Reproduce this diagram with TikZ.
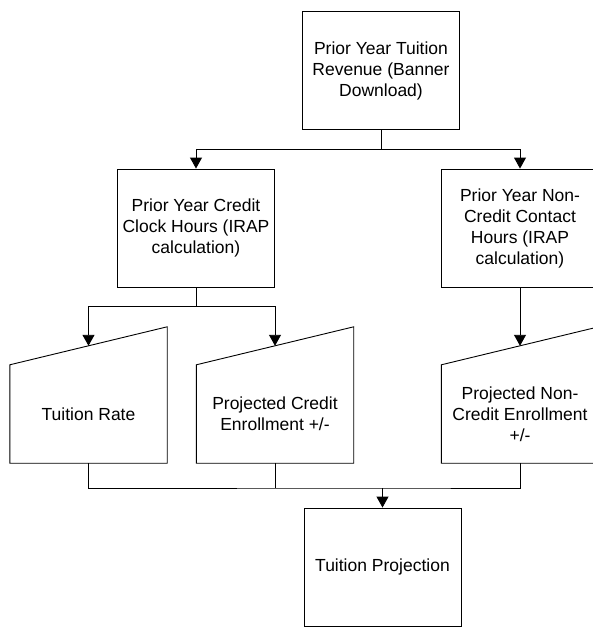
\documentclass[tikz,border=0pt]{standalone}
\usepackage{fontspec}
\setmainfont{Liberation Sans}
\usetikzlibrary{arrows.meta}
\tikzset{
	procbox/.style={draw,line width=0.9pt,minimum width=157pt,minimum height=118pt,align=center,inner sep=0pt},
	inbox/.style={minimum width=157pt,minimum height=98pt,align=center,inner sep=0pt},
	flow/.style={line width=0.9pt,-{Triangle[width=12pt,length=11pt]}},
	link/.style={line width=0.9pt}
}
\begin{document}
\begin{tikzpicture}[x=1pt,y=-1pt,font=\fontsize{17.5}{21}\selectfont]
	\def\slant{38}
	\useasboundingbox (0,0) rectangle (593,627);
	%boxes
	\node[procbox] (rev) at (381,70.5) {Prior Year Tuition\\Revenue (Banner\\Download)};
	\node[procbox] (credit) at (196,228) {Prior Year Credit\\Clock Hours (IRAP\\calculation)};
	\node[procbox] (noncredit) at (520,228) {Prior Year Non-\\Credit Contact\\Hours (IRAP\\calculation)};
	\node[procbox] (proj) at (382.5,567) {Tuition Projection};
	% manual inputs
	\node[inbox] (rate) at (88.5,414) {Tuition Rate};
	\node[inbox] (credenroll) at (275,414) {Projected Credit\\Enrollment +/-};
	\node[inbox] (ncenroll) at (520,414) {Projected Non-\\Credit Enrollment\\+/-};
	\foreach \n in {rate,credenroll,ncenroll}
		\draw[link] (\n.south west) -- (\n.north west) -- ([yshift=\slant pt]\n.north east) -- (\n.south east) -- cycle;
	% connectors
	\coordinate (split1) at (rev.south |- 0,149);
	\coordinate (split2) at (credit.south |- 0,306);
	\coordinate (join) at (proj.north |- 0,488);
	\draw[link] (rev) -- (split1);
	\draw[flow] (split1) -| (credit);
	\draw[flow] (split1) -| (noncredit);
	\draw[link] (credit) -- (split2);
	\draw[flow] (split2) -| ([yshift=.5*\slant pt]rate.north);
	\draw[flow] (split2) -| ([yshift=.5*\slant pt]credenroll.north);
	\draw[flow] (noncredit) -- ([yshift=.5*\slant pt]ncenroll.north);
	\draw[link] (rate.south) |- (join) -| (ncenroll.south);
	\draw[link] (credenroll.south) -- (credenroll.south |- join);
	\draw[flow] (join) -- (proj);
\end{tikzpicture}
\end{document}
